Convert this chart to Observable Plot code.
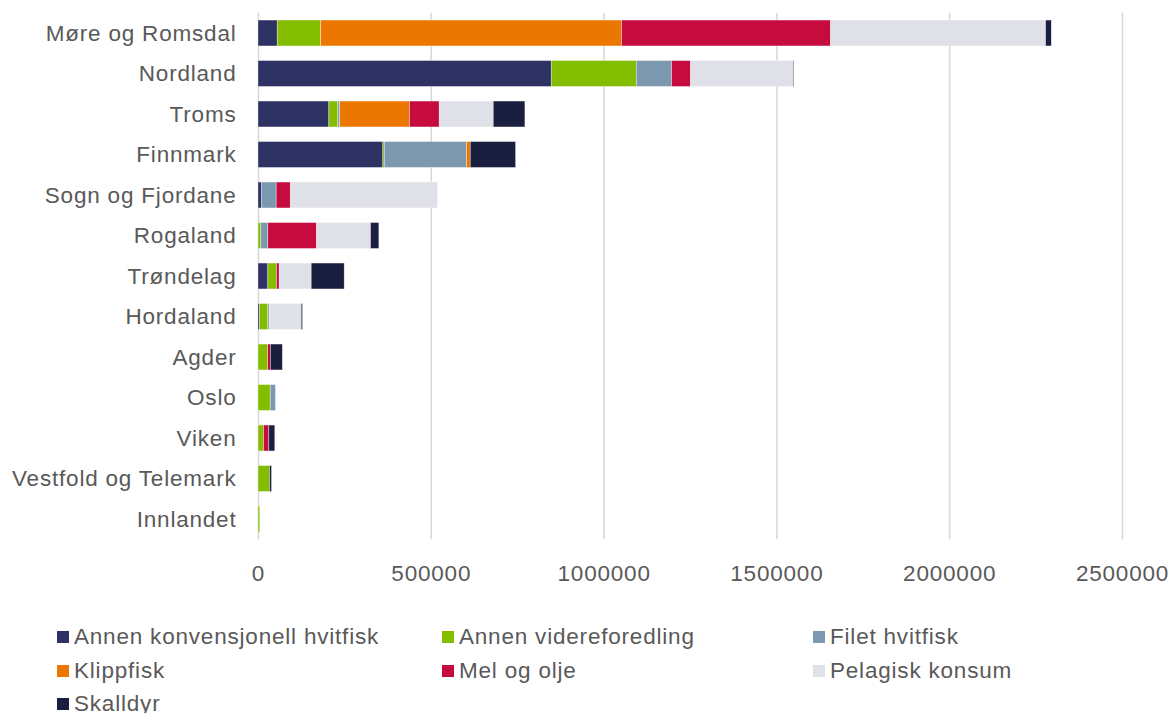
<!DOCTYPE html>
<html>
<head>
<meta charset="utf-8">
<script src="https://cdn.jsdelivr.net/npm/d3@7"></script>
<script src="https://cdn.jsdelivr.net/npm/@observablehq/plot@0.6"></script>
<style>
  html, body { margin: 0; padding: 0; background: #fff; }
  body { width: 1171px; height: 713px; overflow: hidden; font-family: "Liberation Sans", Arial, sans-serif; }
  #chart svg { display: block; }
  #legend { position: relative; height: 113px; color: #595959; font-size: 22.5px; letter-spacing: 0.8px; }
  .li { position: absolute; display: flex; align-items: center; white-space: nowrap; }
  .sw { width: 12px; height: 12px; margin-right: 5px; }
</style>
</head>
<body>
<div id="chart"></div>
<div id="legend"></div>
<script>
const regions = ["Møre og Romsdal","Nordland","Troms","Finnmark","Sogn og Fjordane","Rogaland","Trøndelag","Hordaland","Agder","Oslo","Viken","Vestfold og Telemark","Innlandet"];
const seriesNames = ["Annen konvensjonell hvitfisk","Annen videreforedling","Filet hvitfisk","Klippfisk","Mel og olje","Pelagisk konsum","Skalldyr"];
const seriesColors = ["#2E3163","#84BD00","#7C98AE","#EC7700","#C60C3E","#E0E0E8","#1B1F3F"];

const annenKonvensjonell = [55600, 848500, 205000, 361300, 10100, 0, 28400, 4300, 0, 0, 0, 0, 0];
const annenVidereforedling = [125300, 246000, 26000, 4000, 0, 8200, 25100, 24100, 28000, 35300, 15900, 33300, 5000];
const filetHvitfisk = [0, 102200, 5700, 238200, 42500, 20200, 0, 4000, 0, 15300, 0, 0, 0];
const klippfisk = [871000, 0, 201700, 10600, 0, 0, 0, 0, 0, 0, 0, 0, 0];
const melOgOlje = [605000, 55000, 86000, 0, 41400, 140900, 7800, 0, 7800, 0, 15400, 0, 0];
const pelagiskKonsum = [622000, 296000, 156300, 0, 425500, 156300, 92600, 92600, 0, 0, 0, 0, 0];
const skalldyr = [16500, 2000, 91600, 131200, 0, 24100, 95500, 3800, 34700, 0, 17300, 5800, 0];

const xTicks = [0, 500000, 1000000, 1500000, 2000000, 2500000];

const seriesValues = [annenKonvensjonell, annenVidereforedling, filetHvitfisk, klippfisk, melOgOlje, pelagiskKonsum, skalldyr];
const data = [];
seriesNames.forEach((s, si) => {
  regions.forEach((r, ri) => {
    const v = seriesValues[si][ri];
    if (v > 0) data.push({region: r, series: s, value: v});
  });
});

const font = '"Liberation Sans", Arial, sans-serif';
const chart = Plot.plot({
  width: 1171,
  height: 600,
  marginTop: 12.75,
  marginBottom: 60.75,
  marginLeft: 258,
  marginRight: 49,
  style: {fontFamily: font, fontSize: "22.5px", color: "#595959", background: "#fff", letterSpacing: "0.8px"},
  x: {domain: [0, 2500000], ticks: xTicks, tickFormat: d => String(d), label: null},
  y: {domain: regions, paddingInner: 0.36, paddingOuter: 0.18, round: false, label: null},
  color: {domain: seriesNames, range: seriesColors},
  marks: [
    Plot.gridX(xTicks, {stroke: "#d9d9d9", strokeOpacity: 1, strokeWidth: 1.6}),
    Plot.barX(data, Plot.stackX({x: "value", y: "region", fill: "series", order: seriesNames, stroke: "#ffffff", strokeWidth: 0.6, strokeOpacity: 0.6})),
    Plot.axisX({ticks: xTicks, tickSize: 0, tickPadding: 25, tickFormat: d => String(d), fill: "#595959", label: null}),
    Plot.axisY({tickSize: 0, tickPadding: 22, fill: "#595959", label: null})
  ]
});
document.getElementById("chart").appendChild(chart);

const legend = document.getElementById("legend");
const cols = [57, 442, 813];
seriesNames.forEach((s, i) => {
  const d = document.createElement("div");
  d.className = "li";
  d.style.left = cols[i % 3] + "px";
  d.style.top = (37 - 13 + Math.floor(i / 3) * 33.5) + "px";
  d.style.height = "26px";
  const sw = document.createElement("span");
  sw.className = "sw";
  sw.style.background = seriesColors[i];
  const t = document.createElement("span");
  t.textContent = s;
  d.appendChild(sw);
  d.appendChild(t);
  legend.appendChild(d);
});
</script>
</body>
</html>
